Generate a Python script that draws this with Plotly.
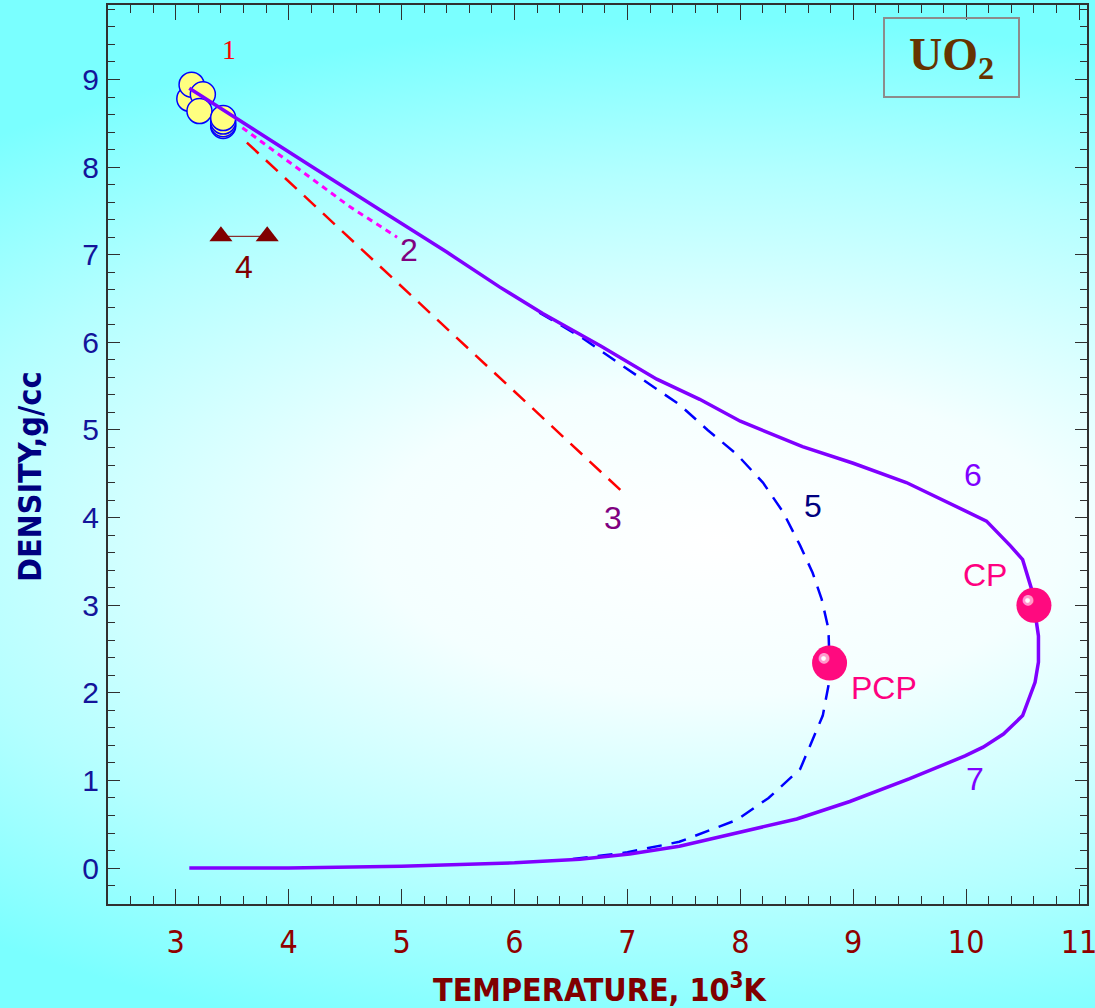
import base64
import plotly.graph_objects as go

# ---------------- data ----------------
# curve 6/7: binodal (upper branch -> CP -> lower branch)
T_binodal = [3.12, 3.6, 4.2, 4.8, 5.4, 5.87, 6.25, 6.76, 7.26, 7.64, 8.0, 8.55, 9.0, 9.47, 9.97,
             10.18, 10.39, 10.5, 10.58, 10.6, 10.64, 10.64, 10.61, 10.5, 10.33, 10.15, 9.99, 9.5,
             8.97, 8.5, 8.0, 7.46, 7.02, 6.58, 6.0, 5.0, 4.0, 3.12]
rho_binodal = [8.90, 8.50, 8.01, 7.52, 7.03, 6.63, 6.33, 5.96, 5.58, 5.35, 5.10, 4.81, 4.62, 4.40, 4.09,
               3.96, 3.68, 3.52, 3.18, 3.00, 2.65, 2.35, 2.12, 1.74, 1.53, 1.38, 1.28, 1.02,
               0.76, 0.56, 0.41, 0.25, 0.16, 0.10, 0.06, 0.02, 0.0, 0.0]

# curve 5: dashed blue (PCP)
T_c5 = [6.22, 6.6, 6.96, 7.2, 7.46, 7.71, 7.97, 8.2, 8.38, 8.53, 8.64, 8.72, 8.78, 8.79, 8.78,
        8.73, 8.63, 8.53, 8.25, 7.97, 7.46, 7.0, 6.5]
rho_c5 = [6.34, 6.05, 5.73, 5.52, 5.29, 5.00, 4.72, 4.40, 4.06, 3.68, 3.37, 3.07, 2.73, 2.34, 2.08,
          1.74, 1.44, 1.13, 0.80, 0.55, 0.30, 0.18, 0.10]

# curve 3: red dashed
T_c3 = [3.63, 5.3, 7.0]
rho_c3 = [8.28, 6.28, 4.24]

# curve 2: magenta dotted
T_c2 = [3.59, 4.1, 4.54, 4.96]
rho_c2 = [8.45, 7.97, 7.55, 7.20]

# series 1: experimental points (circles)
T_s1 = [3.12, 3.14, 3.24, 3.21, 3.42, 3.42, 3.42, 3.42]
rho_s1 = [8.78, 8.94, 8.83, 8.64, 8.47, 8.49, 8.52, 8.56]

# series 4: triangles
T_s4 = [3.40, 3.81]
rho_s4 = [7.21, 7.21]

# critical points
T_cp = [10.60, 8.79]
rho_cp = [3.00, 2.34]

# labels
lab_text = ["1", "2", "3", "4", "5", "6", "7", "CP", "PCP"]
lab_T = [3.47, 5.07, 6.87, 3.60, 8.645, 10.06, 10.08, 10.17, 9.27]
lab_rho = [9.34, 7.05, 4.00, 6.86, 4.13, 4.49, 1.02, 3.35, 2.06]
lab_color = ["#FF0000", "#800080", "#800080", "#800000", "#000080", "#8000FF", "#8000FF", "#FF0080", "#FF0080"]
lab_font = ["Liberation Serif", "Liberation Sans", "Liberation Sans", "Liberation Sans", "Liberation Sans",
            "Liberation Sans", "Liberation Sans", "Liberation Sans", "Liberation Sans"]

x_ticks = [3, 4, 5, 6, 7, 8, 9, 10, 11]
y_ticks = [0, 1, 2, 3, 4, 5, 6, 7, 8, 9]

# ---------------- layout geometry ----------------
W, H = 1095, 1008
ML, MR, MT, MB = 108, 8, 5, 104
PW, PH = W - ML - MR, H - MT - MB

svg = (f'<svg xmlns="http://www.w3.org/2000/svg" width="{W}" height="{H}" viewBox="0 0 {W} {H}">'
       '<defs><radialGradient id="g" gradientUnits="userSpaceOnUse" cx="0" cy="0" r="1" '
       'gradientTransform="translate(720 540) scale(1150 520)">'
       '<stop offset="0" stop-color="#ffffff"/><stop offset="0.3" stop-color="#f4ffff"/>'
       '<stop offset="0.7" stop-color="#b4ffff"/><stop offset="1" stop-color="#7affff"/>'
       '</radialGradient></defs>'
       f'<rect width="{W}" height="{H}" fill="url(#g)"/></svg>')
bg_src = "data:image/svg+xml;base64," + base64.b64encode(svg.encode()).decode()

fig = go.Figure()

fig.add_trace(go.Scatter(x=T_c3, y=rho_c3, mode="lines",
                         line=dict(color="#FF0000", width=2.5, dash="16px,10px"), hoverinfo="skip"))
fig.add_trace(go.Scatter(x=T_c2, y=rho_c2, mode="lines",
                         line=dict(color="#FF00FF", width=3, dash="6px,5px"), hoverinfo="skip"))
fig.add_trace(go.Scatter(x=T_c5, y=rho_c5, mode="lines",
                         line=dict(color="#0000FF", width=2.5, dash="15px,10px"), hoverinfo="skip"))
fig.add_trace(go.Scatter(x=T_s1, y=rho_s1, mode="markers",
                         marker=dict(size=25, color="#FFFF80", line=dict(color="#0000FF", width=1.5)),
                         hoverinfo="skip"))
fig.add_trace(go.Scatter(x=T_binodal, y=rho_binodal, mode="lines",
                         line=dict(color="#8000FF", width=3.5), hoverinfo="skip"))
fig.add_trace(go.Scatter(x=T_s4, y=rho_s4, mode="lines+markers",
                         line=dict(color="#800000", width=1),
                         marker=dict(symbol="triangle-up", size=20, color="#800000"), hoverinfo="skip"))
fig.add_trace(go.Scatter(x=T_cp, y=rho_cp, mode="markers",
                         marker=dict(size=35, color="#FF0A7F", line=dict(width=0)), hoverinfo="skip"))

annotations = []
for t, xv, yv, c, f in zip(lab_text, lab_T, lab_rho, lab_color, lab_font):
    annotations.append(dict(x=xv, y=yv, xref="x", yref="y", text=t, showarrow=False,
                            xanchor="center", yanchor="middle",
                            font=dict(family=f, size=32 if f != "Liberation Serif" else 28, color=c)))
# highlights on the CP spheres
for xv, yv in zip(T_cp, rho_cp):
    annotations.append(dict(x=xv, y=yv, xref="x", yref="y", text="●", showarrow=False,
                            xanchor="center", yanchor="middle",
                            xshift=-6, yshift=6, font=dict(family="DejaVu Sans", size=14, color="#FF9ACD")))
    annotations.append(dict(x=xv, y=yv, xref="x", yref="y", text="●", showarrow=False,
                            xanchor="center", yanchor="middle",
                            xshift=-6, yshift=6, font=dict(family="DejaVu Sans", size=6, color="#FFFFFF")))

title_font = "DejaVu Sans Condensed, Liberation Sans Narrow, Liberation Sans"
# axis titles
annotations.append(dict(x=(600 - ML) / PW, y=(MT + PH - 988) / PH, xref="paper", yref="paper",
                        xanchor="center", yanchor="middle",
                        text="TEMPERATURE, 10<sup>3</sup>K", showarrow=False,
                        font=dict(family=title_font, size=32, color="#800000", weight="bold")))
annotations.append(dict(x=(30 - ML) / PW, y=(MT + PH - 477) / PH, xref="paper", yref="paper",
                        xanchor="center", yanchor="middle",
                        text="DENSITY,g/cc", textangle=-90, showarrow=False,
                        font=dict(family=title_font, size=32, color="#000080", weight="bold")))
# UO2 box
annotations.append(dict(x=(951.5 - ML) / PW, y=(MT + PH - 57.5) / PH, xref="paper", yref="paper",
                        xanchor="center", yanchor="middle",
                        text="<b>UO<sub>2</sub></b>", showarrow=False,
                        width=133, height=77, bordercolor="#8C8C8C", borderwidth=2, borderpad=0,
                        font=dict(family="Liberation Serif", size=46, color="#663300")))

axis_common = dict(showgrid=False, zeroline=False, showline=True, linecolor="#303030", linewidth=2,
                   mirror="allticks", ticks="inside", tickcolor="#303030", tickwidth=1,
                   ticklabeloverflow="allow", automargin=False)

fig.update_layout(
    width=W, height=H, margin=dict(l=ML, r=MR, t=MT, b=MB, autoexpand=False),
    paper_bgcolor="rgba(0,0,0,0)", plot_bgcolor="rgba(0,0,0,0)",
    showlegend=False,
    images=[dict(source=bg_src, xref="paper", yref="paper", x=-ML / PW, y=1 + MT / PH,
                 sizex=W / PW, sizey=H / PH, xanchor="left", yanchor="top",
                 sizing="stretch", layer="below")],
    xaxis=dict(range=[2.4, 11.07], tickvals=x_ticks, ticklen=15,
               minor=dict(dtick=0.2, ticklen=8, ticks="inside", tickcolor="#303030"),
               tickfont=dict(family="Liberation Sans Narrow, DejaVu Sans Condensed, Liberation Sans",
                             size=32, color="#900000"),
               ticklabelstandoff=9, **axis_common),
    yaxis=dict(range=[-0.41, 9.85], tickvals=y_ticks, ticklen=12,
               minor=dict(dtick=0.2, ticklen=7, ticks="inside", tickcolor="#303030"),
               tickfont=dict(family="Liberation Sans", size=30, color="#14149A"),
               ticklabelstandoff=1, **axis_common),
    annotations=annotations,
)

fig.write_html("out.html", config={"displayModeBar": False},
               post_script="document.body.style.margin='0';document.body.style.overflow='hidden';")
